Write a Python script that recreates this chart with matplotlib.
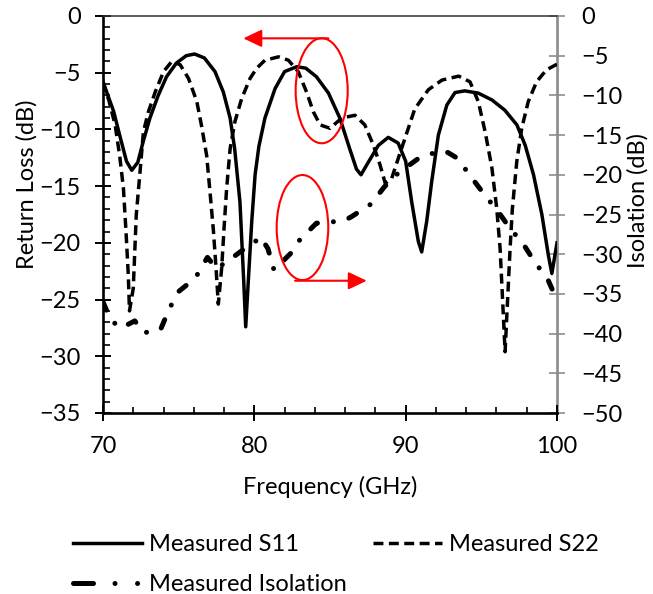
import matplotlib
matplotlib.use("Agg")
import matplotlib.pyplot as plt
from matplotlib.patches import Ellipse
from matplotlib.lines import Line2D
from matplotlib.ticker import MultipleLocator

plt.rcParams['font.family'] = ['Lato', 'DejaVu Sans']
FS = 17

# Measured S11 (return loss, left axis)
s11_freq = [70.0, 70.7, 71.1, 71.55, 71.9, 72.3, 72.65, 73.1, 73.65, 74.2, 74.85, 75.5,
            76.05, 76.7, 77.4, 77.95, 78.4, 78.7, 79.05, 79.3, 79.43, 79.6, 79.83, 80.05,
            80.3, 80.7, 81.37, 82.0, 82.8, 83.4, 84.1, 84.9, 85.65, 86.3, 86.75, 87.05,
            87.55, 88.2, 88.85, 89.5, 90.0, 90.4, 90.84, 91.06, 91.39, 91.72, 92.16, 92.72,
            93.26, 93.9, 94.8, 95.7, 96.55, 97.35, 97.9, 98.45, 99.0, 99.43, 99.66, 100.0]
s11_db = [-5.8, -8.4, -10.5, -12.8, -13.6, -12.9, -11.1, -9.0, -7.0, -5.35, -4.15, -3.5,
          -3.35, -3.7, -4.9, -6.7, -9.0, -11.7, -16.4, -23.4, -27.4, -23.4, -18.1, -14.0,
          -11.5, -9.0, -6.4, -4.9, -4.47, -4.6, -5.35, -6.8, -9.0, -11.7, -13.5, -14.0,
          -12.85, -11.4, -10.7, -11.2, -12.8, -16.4, -19.9, -20.8, -18.1, -14.6, -10.5, -7.85,
          -6.75, -6.6, -6.8, -7.4, -8.3, -9.6, -11.4, -14.0, -17.5, -21.1, -22.7, -20.0]

# Measured S22 (return loss, left axis)
s22_freq = [70.0, 70.4, 70.8, 71.1, 71.35, 71.52, 71.67, 71.75, 72.0, 72.2, 72.45, 72.67,
            73.0, 73.45, 74.0, 74.55, 75.1, 75.65, 76.2, 76.5, 76.85, 77.07, 77.3, 77.47,
            77.62, 77.84, 78.0, 78.17, 78.4, 78.72, 79.17, 79.72, 80.16, 80.7, 81.6, 82.25,
            82.9, 83.45, 83.9, 84.35, 85.0, 85.77, 86.65, 87.3, 87.87, 88.3, 88.65, 89.08,
            89.5, 90.05, 90.6, 91.5, 92.4, 93.5, 94.25, 94.8, 95.25, 95.7, 96.02, 96.24,
            96.4, 96.57, 96.74, 96.9, 97.05, 97.34, 97.67, 98.1, 98.65, 99.3, 100.0]
s22_db = [-5.8, -7.5, -9.6, -12.3, -15.2, -19.0, -22.8, -26.0, -24.0, -17.5, -13.7, -10.2,
          -8.45, -6.7, -4.9, -4.0, -4.3, -5.5, -7.55, -9.6, -12.3, -15.5, -19.0, -22.25,
          -25.4, -22.25, -18.7, -15.2, -11.7, -9.3, -7.25, -5.5, -4.6, -3.9, -3.6, -3.9,
          -4.9, -6.7, -8.45, -9.6, -9.9, -9.0, -8.75, -9.6, -11.4, -13.1, -14.75, -14.3,
          -12.6, -10.4, -8.2, -6.5, -5.65, -5.3, -5.8, -7.55, -10.2, -13.4, -17.0, -20.5,
          -24.9, -29.6, -24.9, -20.5, -17.0, -12.85, -9.9, -7.55, -5.8, -4.75, -4.25]

# Measured isolation (right axis)
iso_freq = [70.0, 70.5, 71.2, 72.1, 72.7, 73.8, 74.4, 75.0, 76.1, 76.9, 77.5, 78.3,
            79.0, 80.2, 80.4, 80.9, 81.3, 82.4, 83.0, 84.1, 85.3, 86.0, 86.4, 87.7,
            88.6, 89.5, 90.8, 92.2, 92.8, 93.4, 94.3, 95.2, 96.1, 96.8, 97.8, 98.5,
            99.4, 100.0]
iso_db = [-36.0, -38.3, -39.3, -38.4, -39.9, -39.5, -36.8, -34.7, -33.0, -30.4, -31.8, -30.8,
          -29.8, -28.2, -27.8, -29.3, -32.0, -29.9, -28.2, -26.1, -25.9, -25.7, -25.3, -23.7,
          -21.5, -19.8, -18.0, -17.0, -17.2, -17.9, -20.2, -22.5, -24.6, -26.5, -28.8, -30.9,
          -33.2, -35.8]

x_ticks = [70, 80, 90, 100]
rl_ticks = list(range(-35, 1, 5))
iso_ticks = list(range(-50, 1, 5))

S22_DASH = (0, (2.86, 1.57))
ISO_DASH = (0, (1.8, 3.2, 0.01, 3.2))
ISO_LEGEND_DASH = (0, (4.0, 4.3, 0.01, 4.5, 0.01, 4.5))

fig = plt.figure(figsize=(6.53, 5.94), dpi=100)
ax = fig.add_axes([103 / 653, 1 - 413 / 594, 454 / 653, 397 / 594])
ax2 = ax.twinx()

ax.plot(s11_freq, s11_db, color='black', lw=2.5, solid_joinstyle='round', zorder=3)
ax.plot(s22_freq, s22_db, color='black', lw=2.5, linestyle=S22_DASH,
        dash_capstyle='butt', zorder=3)
ax2.plot(iso_freq, iso_db, color='black', lw=3.6, linestyle=ISO_DASH,
         dash_capstyle='round', solid_capstyle='round', zorder=3)

ax.set_xlim(70, 100)
ax.set_ylim(-35, 0)
ax2.set_ylim(-50, 0)

ax.set_xticks(x_ticks)
ax.set_yticks(rl_ticks)
ax2.set_yticks(iso_ticks)
ax.xaxis.set_minor_locator(MultipleLocator(2))
ax.yaxis.set_minor_locator(MultipleLocator(1))
ax.tick_params(axis='x', which='major', direction='inout', length=11, width=1.4,
               labelsize=FS, pad=11, top=False)
ax.tick_params(axis='x', which='minor', direction='in', length=4.5, width=1.2, top=False)
ax.tick_params(axis='y', which='major', direction='inout', length=12, width=1.4,
               labelsize=FS, pad=10, right=False)
ax.tick_params(axis='y', which='minor', direction='in', length=5, width=1.2, right=False)
ax2.tick_params(axis='y', which='major', direction='inout', length=11, width=1.2,
                color='#8c8c8c', labelsize=FS, pad=12)

for name in ('left', 'bottom'):
    ax.spines[name].set_linewidth(1.9)
    ax.spines[name].set_color('black')
ax.spines['top'].set_linewidth(1.1)
ax.spines['top'].set_color('#303030')
ax.spines['right'].set_visible(False)
for name in ('left', 'bottom', 'top'):
    ax2.spines[name].set_visible(False)
ax2.spines['right'].set_color('#8c8c8c')
ax2.spines['right'].set_linewidth(1.9)

ax.set_xlabel('Frequency (GHz)', fontsize=FS)
ax.xaxis.label.set_va('center')
ax.xaxis.set_label_coords(0.5, (413 - 487) / 397)
ax.set_ylabel('Return Loss (dB)', fontsize=FS)
ax.yaxis.label.set_va('center')
ax.yaxis.set_label_coords((27 - 103) / 454, (413 - 184) / 397)
ax2.set_ylabel('Isolation (dB)', fontsize=FS)
ax2.yaxis.label.set_va('center')
ax2.yaxis.set_label_coords((638 - 103) / 454, (413 - 201) / 397)

# red call-outs pointing each group of curves to its axis
red = '#ff0000'
ax.add_patch(Ellipse((84.45, -6.59), 3.44, 9.26, fill=False, edgecolor=red, lw=1.5, zorder=5))
ax.add_patch(Ellipse((83.18, -18.65), 3.41, 9.26, fill=False, edgecolor=red, lw=1.5, zorder=5))
arrow_style = dict(arrowstyle='-|>,head_length=0.8,head_width=0.38', color=red, lw=1.5,
                   mutation_scale=14, shrinkA=0, shrinkB=0)
ax.annotate('', xy=(79.27, -1.97), xytext=(84.89, -1.97), arrowprops=arrow_style, zorder=5)
ax.annotate('', xy=(87.43, -23.34), xytext=(82.69, -23.34), arrowprops=arrow_style, zorder=5)
ax2.set_zorder(ax.get_zorder() - 1)
ax.patch.set_visible(False)

h11 = Line2D([], [], color='black', lw=2.5)
h22 = Line2D([], [], color='black', lw=2.5, linestyle=S22_DASH, dash_capstyle='butt')
hiso = Line2D([], [], color='black', lw=3.6, linestyle=ISO_LEGEND_DASH, dash_capstyle='round')
em = FS * 100 / 72
fig.legend(handles=[h11, hiso, h22],
           labels=['Measured S11', 'Measured Isolation', 'Measured S22'],
           ncol=2, loc='upper left', bbox_to_anchor=(73 / 653, 1 - 534 / 594),
           frameon=False, fontsize=FS, handlelength=69 / em, handletextpad=7 / em,
           columnspacing=1.1, labelspacing=0.82, borderpad=0, borderaxespad=0)

fig.savefig('out.png', dpi=100)
